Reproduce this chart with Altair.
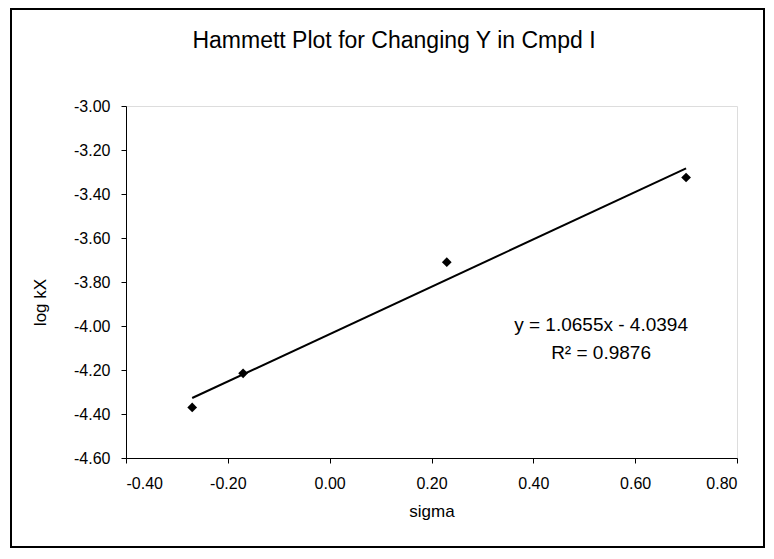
import altair as alt
import pandas as pd

sigma = [-0.27, -0.17, 0.23, 0.70]
log_kx = [-4.37, -4.215, -3.71, -3.325]
eq_lines = ["y = 1.0655x - 4.0394", "R\u00b2 = 0.9876"]
eq_x = [0.533, 0.533]
eq_y = [-3.995, -4.123]
title_text = "Hammett Plot for Changing Y in Cmpd I"
x_ticks = [-0.4, -0.2, 0.0, 0.2, 0.4, 0.6, 0.8]
y_ticks = [-4.6, -4.4, -4.2, -4.0, -3.8, -3.6, -3.4, -3.2, -3.0]

df = pd.DataFrame({"sigma": sigma, "logkX": log_kx})
FONT = "Liberation Sans"
LBL = "replace(format(datum.value, '.2f'), '\u2212', '-')"

xs = alt.Scale(domain=[-0.4, 0.8], nice=False, zero=False)
ys = alt.Scale(domain=[-4.6, -3.0], nice=False, zero=False)

W, H = 611, 352

xax = alt.Axis(values=x_ticks, labelExpr=LBL,
               grid=False, tickSize=5, labelFontSize=16, titleFontSize=17,
               labelFont=FONT, titleFont=FONT, titleFontWeight="normal",
               labelColor="black", titleColor="black", domainColor="black",
               tickColor="black", labelPadding=12, titlePadding=12)
yax = alt.Axis(values=y_ticks, labelExpr=LBL, grid=False, tickSize=5,
               labelFontSize=16, titleFontSize=17, labelFont=FONT,
               titleFont=FONT, titleFontWeight="normal", labelColor="black",
               titleColor="black", domainColor="black", tickColor="black",
               labelPadding=11, titleX=-86, titleY=196, titleAlign="center",
               titleBaseline="middle", titleAngle=270)

border = alt.Chart(pd.DataFrame({"a": [0]})).mark_rect(
    fill=None, stroke="black", strokeWidth=2, clip=False
).encode(x=alt.value(-115), x2=alt.value(W + 27), y=alt.value(-97), y2=alt.value(H + 89))

title = alt.Chart(pd.DataFrame({"t": [title_text]})).mark_text(
    font=FONT, fontSize=23, fontWeight="normal", color="black", align="center",
    baseline="middle"
).encode(x=alt.value(268), y=alt.value(-65), text="t:N")

pts = alt.Chart(df).mark_point(shape="diamond", filled=True, color="black",
                               size=95, opacity=1).encode(
    x=alt.X("sigma:Q", scale=xs, axis=xax, title="sigma"),
    y=alt.Y("logkX:Q", scale=ys, axis=yax, title="log kX"),
)

line = alt.Chart(df).transform_regression("sigma", "logkX").mark_line(
    color="black", strokeWidth=2
).encode(x=alt.X("sigma:Q", scale=xs), y=alt.Y("logkX:Q", scale=ys))

eq_df = pd.DataFrame({"t": eq_lines, "sx": eq_x, "sy": eq_y})
eq = alt.Chart(eq_df).mark_text(font=FONT, fontSize=19, color="black",
                                align="center", baseline="middle").encode(
    x=alt.X("sx:Q", scale=xs), y=alt.Y("sy:Q", scale=ys), text="t:N")

chart = alt.layer(border, title, line, pts, eq).properties(
    width=W, height=H,
    autosize=alt.AutoSizeParams(type="none"),
    padding={"left": 118, "top": 98, "right": 29, "bottom": 91},
).configure_view(stroke="black", strokeWidth=1.5).configure(background="white")

chart.save("out.html", embed_options={"renderer": "svg", "actions": False})
